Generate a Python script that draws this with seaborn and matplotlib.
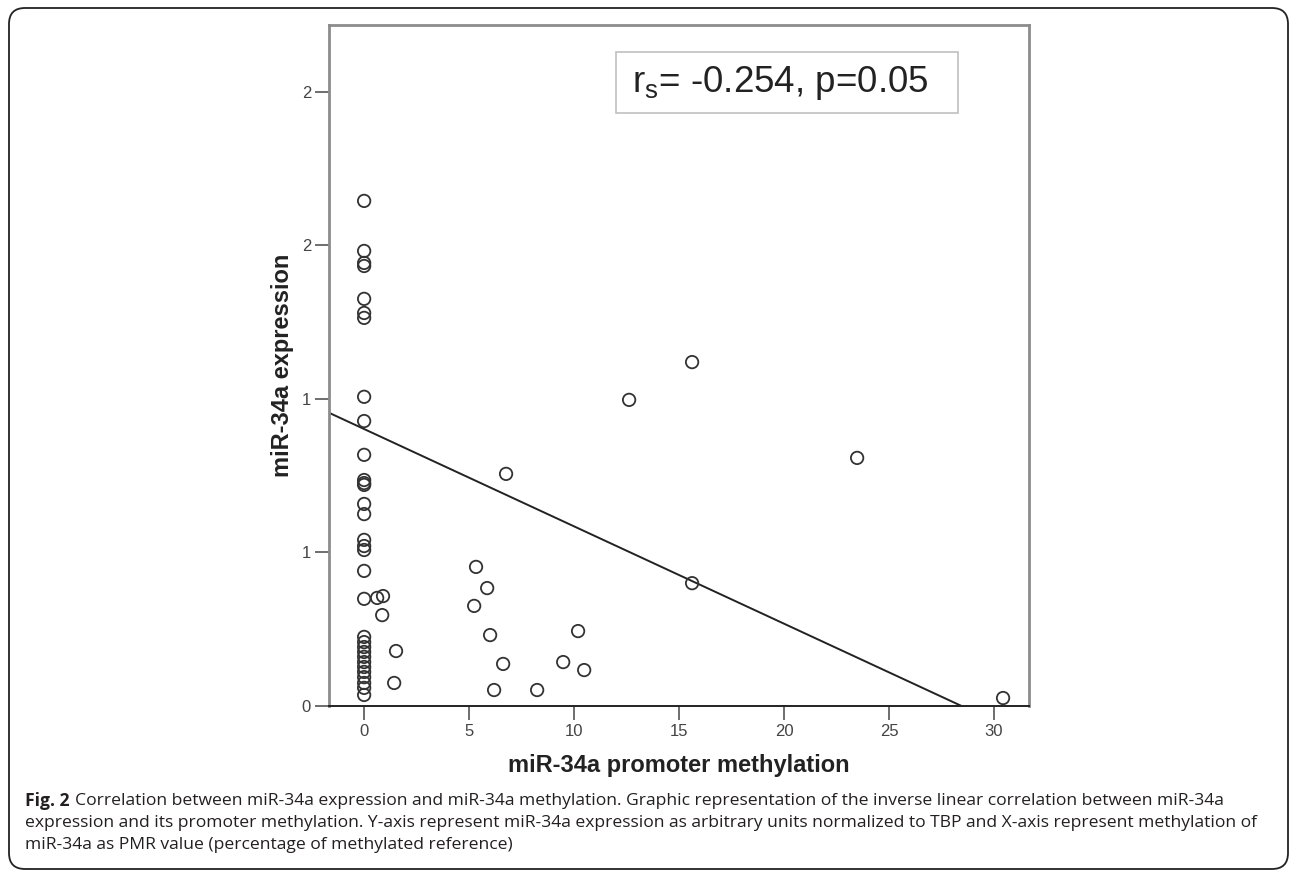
import matplotlib
matplotlib.use("Agg")
import numpy as np
import pandas as pd
import seaborn as sns
from matplotlib import pyplot as plt
from matplotlib.patches import FancyBboxPatch, Rectangle
from matplotlib.transforms import IdentityTransform

# points: PMR value vs miR-34a expression
methylation = [
    0, 0, 0, 0, 0, 0, 0, 0, 0, 0, 0, 0, 0, 0, 0, 0,
    0, 0, 0, 0, 0, 0, 0, 0, 0, 0, 0, 0, 0, 0, 0, 0,
    0.62, 0.90, 0.86, 1.52, 1.43,
    5.33, 5.86, 5.24, 6.00, 6.62, 6.19, 8.24,
    10.19, 9.48, 10.48,
    6.76, 12.62, 15.62, 15.62, 23.48, 30.43,
]
expression = [
    1.645, 1.482, 1.443, 1.433, 1.326, 1.280, 1.264, 1.007, 0.928, 0.818,
    0.736, 0.726, 0.720, 0.658, 0.625, 0.541, 0.521, 0.508, 0.440, 0.349,
    0.225, 0.208, 0.192, 0.176, 0.160, 0.143, 0.127, 0.111, 0.094, 0.075,
    0.059, 0.036,
    0.352, 0.358, 0.296, 0.179, 0.075,
    0.453, 0.384, 0.326, 0.231, 0.137, 0.052, 0.052,
    0.244, 0.143, 0.117,
    0.756, 0.997, 1.120, 0.400, 0.808, 0.026,
]

# fit line as drawn in the figure
fit_intercept = 0.902
fit_slope = -0.0317

x_ticks = [0, 5, 10, 15, 20, 25, 30]
y_ticks = [0, 0.5, 1.0, 1.5, 2.0]
y_tick_labels = ['0', '1', '1', '2', '2']

stat_text = r'r$_{\mathregular{s}}$= -0.254, p=0.05'
caption_bold = 'Fig. 2'
caption_lines = [
    'Correlation between miR-34a expression and miR-34a methylation. '
    'Graphic representation of the inverse linear correlation between miR-34a',
    'expression and its promoter methylation. Y-axis represent miR-34a expression '
    'as arbitrary units normalized to TBP and X-axis represent methylation of',
    'miR-34a as PMR value (percentage of methylated reference)',
]


def main():
    sns.set_theme(style='white')
    plt.rcParams['font.family'] = ['Liberation Sans', 'DejaVu Sans']

    data = pd.DataFrame({'meth': methylation, 'expr': expression})

    fig = plt.figure(figsize=(12.93, 8.73), dpi=100)
    ax = fig.add_axes([0.2545, 0.1913, 0.5414, 0.7801])

    sns.scatterplot(
        data=data, x='meth', y='expr', ax=ax,
        s=80, facecolors='none', edgecolor='#333333', linewidth=1.3,
        marker='o', zorder=3,
    )
    ax.axline((0, fit_intercept), slope=fit_slope, color='#222222', lw=1.4)

    ax.set_xlim(-1.67, 31.67)
    ax.set_ylim(0, 2.218)
    ax.set_xticks(x_ticks)
    ax.set_yticks(y_ticks)
    ax.set_yticklabels(y_tick_labels)
    ax.tick_params(axis='both', which='both', direction='out', length=10,
                   width=1.2, color='#555555', labelsize=12,
                   labelcolor='#444444', pad=3, left=True, bottom=True)

    for side in ('left', 'top', 'right'):
        ax.spines[side].set_color('#8c8c8c')
        ax.spines[side].set_linewidth(2)
    ax.spines['bottom'].set_color('#222222')
    ax.spines['bottom'].set_linewidth(1.4)

    label_font = dict(family=['Liberation Sans Narrow', 'Liberation Sans'],
                      weight='bold', size=17, color='#222222')
    ax.set_xlabel('miR-34a promoter methylation', **label_font)
    ax.set_ylabel('miR-34a expression', **label_font)
    ax.xaxis.set_label_coords(0.5, -0.088)
    ax.xaxis.label.set_va('center')
    ax.yaxis.set_label_coords(-0.066, 0.5)
    ax.yaxis.label.set_va('center')

    # statistics box
    ax.add_patch(Rectangle((0.41, 0.8708), 0.4886, 0.0896,
                           transform=ax.transAxes, fill=False,
                           edgecolor='#c0c0c0', lw=1.2))
    ax.text(0.433, 0.9016, stat_text, transform=ax.transAxes,
            fontsize=26.5, color='#222222', va='baseline', ha='left')

    # caption
    cap_font = dict(family=['Open Sans', 'DejaVu Sans'], size=12.6,
                    color='#231f20')
    ys = [1 - 801 / 873, 1 - 823 / 873, 1 - 845 / 873]
    first = fig.text(25 / 1293, ys[0], caption_bold, va='center',
                     weight='bold', **cap_font)
    ax.annotate(caption_lines[0], xy=(1, 0.5), xycoords=first,
                xytext=(4, 0), textcoords='offset points', va='center',
                annotation_clip=False, **cap_font)
    for y, line in zip(ys[1:], caption_lines[1:]):
        fig.text(25 / 1293, y, line, va='center', **cap_font)

    frame = FancyBboxPatch((9, 4), 1279, 861, transform=IdentityTransform(),
                           boxstyle='round,pad=0,rounding_size=16',
                           fill=False, edgecolor='#222222', lw=1.3)
    fig.add_artist(frame)

    fig.savefig('out.png', dpi=100)
    plt.close(fig)


if __name__ == '__main__':
    main()
